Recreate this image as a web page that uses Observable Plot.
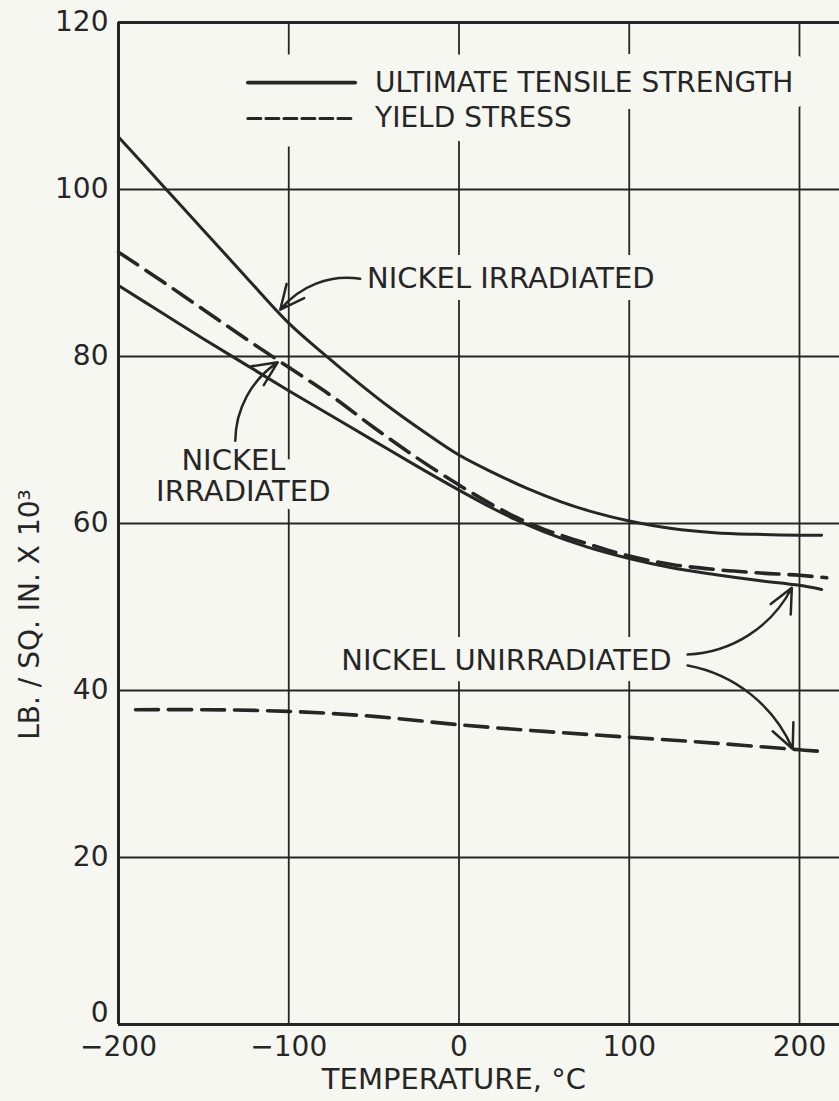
<!DOCTYPE html>
<html>
<head>
<meta charset="utf-8">
<script src="https://cdn.jsdelivr.net/npm/d3@7"></script>
<script src="https://cdn.jsdelivr.net/npm/@observablehq/plot@0.6"></script>
<style>
  html, body { margin: 0; padding: 0; background: #f7f7f2; }
</style>
</head>
<body>
<div id="chart"></div>
<script>
// ---- tick values ----
const xTicks = [-200, -100, 0, 100, 200];
const yTicks = [0, 20, 40, 60, 80, 100, 120];

// ---- series: [temperature °C, stress (lb/sq.in. x 10^3)] ----
const utsIrradiated = [[-200,106.3],[-175,100.7],[-150,95.1],[-125,89.5],[-100,84.0],[-80,80.4],[-60,77.0],[-40,73.8],[-20,70.9],[0,68.2],[20,66.1],[40,64.2],[60,62.6],[80,61.3],[100,60.3],[125,59.4],[150,58.9],[175,58.7],[200,58.6],[213,58.6]];
const yieldIrradiated = [[-200,92.5],[-175,89.1],[-150,85.6],[-125,82.1],[-100,78.7],[-75,75.3],[-50,71.5],[-25,67.9],[0,64.6],[20,62.2],[35,60.6],[50,59.3],[75,57.6],[100,56.1],[125,55.1],[150,54.5],[175,54.1],[200,53.8],[216,53.5]];
const utsUnirradiated = [[-200,88.5],[-175,85.3],[-150,82.1],[-125,79.0],[-100,75.9],[-75,72.9],[-50,69.9],[-25,66.9],[0,64.0],[20,61.8],[35,60.3],[50,59.0],[75,57.2],[100,55.8],[125,54.7],[150,53.9],[175,53.2],[200,52.6],[213,52.1]];
const yieldUnirradiated = [[-190,37.7],[-150,37.7],[-100,37.5],[-50,36.9],[0,35.9],[50,35.1],[100,34.4],[150,33.7],[200,32.9],[213,32.7]];

// ---- legend ----
const legendLabels = ["ULTIMATE TENSILE STRENGTH", "YIELD STRESS"];
const legendLineX = [-124, -61];
const legendY = [112.8, 108.5];
const legendTextX = -49.3;

// ---- annotations ----
const noteTexts = ["NICKEL IRRADIATED", "NICKEL", "IRRADIATED", "NICKEL UNIRRADIATED"];
const noteX = [-54, -132.5, -126.7, -69.2];
const noteY = [89.3, 67.5, 63.8, 43.6];
const noteAnchor = ["start", "middle", "middle", "start"];

// arrows: [x1, y1, x2, y2]
const arrowsCCW = [[-58, 89.3, -105, 85.6], [134.3, 44.3, 195.5, 52.3]];
const arrowsCW = [[-131.4, 69.9, -106.5, 79.3], [134.3, 43.0, 196, 33.0]];

const xTitle = "TEMPERATURE, °C";
const yTitle = "LB. / SQ. IN. X 10³";

// ---- build ----
const ink = "#262626";
const bg = "#f7f7f2";
const font = "DejaVu Sans";
const toPts = (arr) => arr.map(([t, v]) => ({t, v}));

const notes = noteTexts.map((text, i) => ({text, t: noteX[i], v: noteY[i], anchor: noteAnchor[i]}));
const notesStart = notes.filter(d => d.anchor === "start");
const notesMid = notes.filter(d => d.anchor === "middle");
const legendSolid = legendLineX.map(t => ({t, v: legendY[0]}));
const legendDash = legendLineX.map(t => ({t, v: legendY[1]}));
const legendText = legendLabels.map((text, i) => ({text, t: legendTextX, v: legendY[i]}));
const arrObj = (a) => a.map(([x1, y1, x2, y2]) => ({x1, y1, x2, y2}));
const fmt = d3.format("d");

const halo = (data, anchor, w, size) => Plot.text(data, {x: "t", y: "v", text: "text", textAnchor: anchor, fontSize: size, fontFamily: font, fill: bg, stroke: bg, strokeWidth: w, strokeLinejoin: "round"});
const label = (data, anchor, size) => Plot.text(data, {x: "t", y: "v", text: "text", textAnchor: anchor, fontSize: size, fontFamily: font, fill: ink});

const chart = Plot.plot({
  width: 839,
  height: 1101,
  marginLeft: 118,
  marginRight: 0,
  marginTop: 22,
  marginBottom: 77,
  style: {background: bg, color: ink, fontSize: "28px", fontFamily: font},
  x: {domain: [-200, 223.5], ticks: xTicks, tickSize: 0, tickPadding: 12, label: null},
  y: {domain: [0, 120], axis: null},
  marks: [
    // grid
    Plot.ruleX(xTicks.filter(d => d !== -200), {stroke: ink, strokeWidth: 1.8}),
    Plot.ruleY(yTicks.filter(d => d !== 0 && d !== 120), {stroke: ink, strokeWidth: 1.8}),
    // frame
    Plot.ruleX([-200], {stroke: ink, strokeWidth: 3}),
    Plot.ruleY([0, 120], {stroke: ink, strokeWidth: 3}),
    // knock-outs (gaps in the grid behind legend and labels)
    Plot.line(legendSolid, {x: "t", y: "v", stroke: bg, strokeWidth: 56}),
    Plot.line(legendDash, {x: "t", y: "v", stroke: bg, strokeWidth: 56}),
    halo(legendText, "start", 34, 28),
    halo(notesStart, "start", 24, 29),
    halo(notesMid, "middle", 18, 29),
    // texts
    label(legendText, "start", 28),
    label(notesStart, "start", 29),
    label(notesMid, "middle", 29),
    // y tick labels
    Plot.text(yTicks.filter(d => d !== 0), {x: -200, y: d => d, text: d => fmt(d), textAnchor: "end", dx: -10, fontSize: 28, fontFamily: font, fill: ink}),
    Plot.text([0], {x: -200, y: d => d, text: d => fmt(d), textAnchor: "end", dx: -10, dy: -11, fontSize: 28, fontFamily: font, fill: ink}),
    // curves
    Plot.line(toPts(utsIrradiated), {x: "t", y: "v", stroke: ink, strokeWidth: 3, curve: "catmull-rom"}),
    Plot.line(toPts(utsUnirradiated), {x: "t", y: "v", stroke: ink, strokeWidth: 3, curve: "catmull-rom"}),
    Plot.line(toPts(yieldIrradiated), {x: "t", y: "v", stroke: ink, strokeWidth: 3.6, strokeDasharray: "23,10", curve: "catmull-rom"}),
    Plot.line(toPts(yieldUnirradiated), {x: "t", y: "v", stroke: ink, strokeWidth: 3.6, strokeDasharray: "23,10", curve: "catmull-rom"}),
    // legend samples
    Plot.line(legendSolid, {x: "t", y: "v", stroke: ink, strokeWidth: 3.8}),
    Plot.line(legendDash, {x: "t", y: "v", stroke: ink, strokeWidth: 3, strokeDasharray: "13,5"}),
    // arrows
    Plot.arrow(arrObj(arrowsCCW), {x1: "x1", y1: "y1", x2: "x2", y2: "y2", bend: -30, stroke: ink, strokeWidth: 2.5, headLength: 16, headAngle: 50}),
    Plot.arrow(arrObj(arrowsCW), {x1: "x1", y1: "y1", x2: "x2", y2: "y2", bend: 28, stroke: ink, strokeWidth: 2.5, headLength: 16, headAngle: 50}),
    // axis titles
    Plot.text([{text: xTitle, t: -3}], {x: "t", text: "text", frameAnchor: "bottom", textAnchor: "middle", lineAnchor: "middle", dy: 55, fontSize: 29, fontFamily: font, fill: ink}),
    Plot.text([{text: yTitle, v: 49.1}], {y: "v", text: "text", frameAnchor: "left", textAnchor: "middle", lineAnchor: "middle", dx: -88, rotate: -90, fontSize: 28, fontFamily: font, fill: ink})
  ]
});

document.getElementById("chart").append(chart);
</script>
</body>
</html>
